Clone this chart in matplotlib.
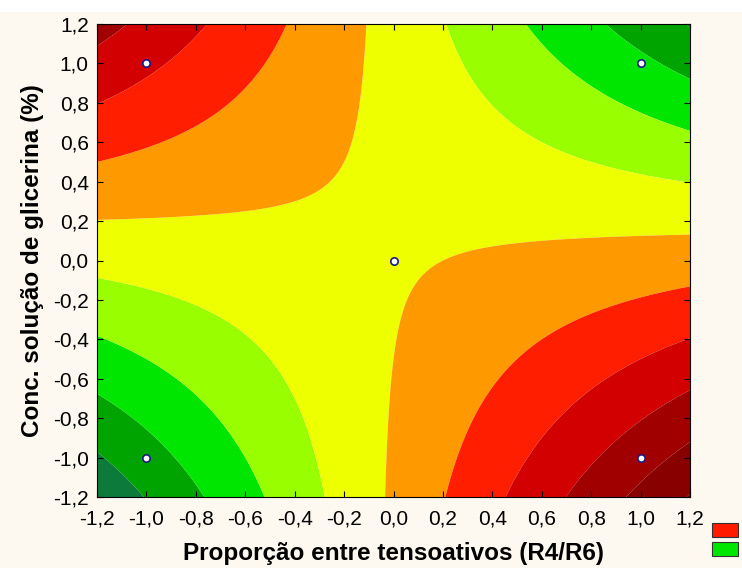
import numpy as np
import matplotlib
matplotlib.use("Agg")
import matplotlib.pyplot as plt
from matplotlib.ticker import FuncFormatter
from matplotlib.patches import Rectangle

plt.rcParams['font.family'] = ['Liberation Sans', 'DejaVu Sans']

# design points (coded) and measured response
x_pts = np.array([-1.0, 1.0, -1.0, 1.0, 0.0])
y_pts = np.array([-1.0, -1.0, 1.0, 1.0, 0.0])
resp = np.array([2.6, 9.6, 8.2, 3.2, 5.9])

levels = [-100, 2, 3, 4, 5, 6, 7, 8, 9, 10, 11, 100]
band_colors = ['#0c7a3a', '#00a400', '#00e600', '#99ff00', '#eeff00',
               '#ff9900', '#ff1e00', '#d20000', '#a00000', '#880000', '#700000']
ticks = [-1.2, -1.0, -0.8, -0.6, -0.4, -0.2, 0.0, 0.2, 0.4, 0.6, 0.8, 1.0, 1.2]

# fit z = b0 + b1 x + b2 y + b12 xy
A = np.column_stack([np.ones_like(x_pts), x_pts, y_pts, x_pts * y_pts])
coef = np.linalg.lstsq(A, resp, rcond=None)[0]

gx, gy = np.meshgrid(np.linspace(-1.2, 1.2, 300), np.linspace(-1.2, 1.2, 300))
gz = coef[0] + coef[1] * gx + coef[2] * gy + coef[3] * gx * gy

fig = plt.figure(figsize=(7.42, 5.68), dpi=100, facecolor='#fdf9f0')
fig.patches.append(Rectangle((0, 1 - 12 / 568), 1, 12 / 568, transform=fig.transFigure,
                             facecolor='white', edgecolor='none', zorder=0))
ax = fig.add_axes([97 / 742, 1 - 497 / 568, (690 - 97) / 742, (497 - 24) / 568])

ax.contourf(gx, gy, gz, levels=levels, colors=band_colors, antialiased=True)
ax.scatter(x_pts, y_pts, s=28, facecolor='white', edgecolor='#1a1a8a', linewidth=1.2, zorder=5)

ax.set_xlim(-1.2, 1.2)
ax.set_ylim(-1.2, 1.2)
ax.set_xticks(ticks)
ax.set_yticks(ticks)
fmt = FuncFormatter(lambda v, p: f"{v:.1f}".replace('.', ','))
ax.xaxis.set_major_formatter(fmt)
ax.yaxis.set_major_formatter(fmt)
ax.tick_params(direction='in', top=True, right=True, length=4, labelsize=15)
ax.tick_params(axis='x', pad=9)
ax.tick_params(axis='y', pad=6)
for s in ax.spines.values():
    s.set_linewidth(0.8)

ax.set_xlabel('Proporção entre tensoativos (R4/R6)', fontsize=17.5, fontweight='bold', labelpad=10)
ax.set_ylabel('Conc. solução de glicerina (%)', fontsize=17.5, fontweight='bold', labelpad=6)

# legend remnants
fig.patches.append(Rectangle((712 / 742, 1 - 537 / 568), 26 / 742, 14 / 568, transform=fig.transFigure,
                             facecolor='#ff1a00', edgecolor='#333333', linewidth=0.8))
fig.patches.append(Rectangle((712 / 742, 1 - 556 / 568), 26 / 742, 14 / 568, transform=fig.transFigure,
                             facecolor='#00e600', edgecolor='#333333', linewidth=0.8))

fig.savefig('out.png', dpi=100, facecolor=fig.get_facecolor())
